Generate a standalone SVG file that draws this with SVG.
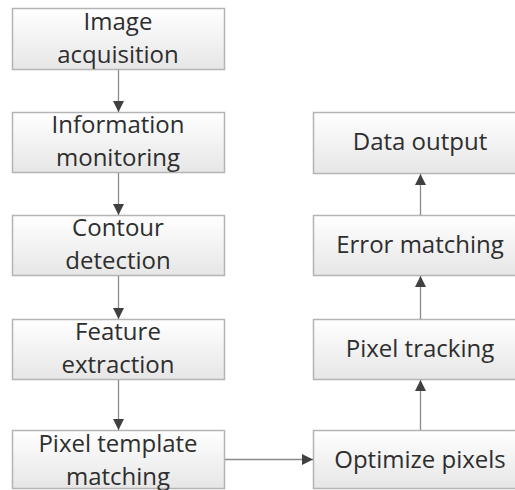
<svg xmlns="http://www.w3.org/2000/svg" width="515" height="490" viewBox="0 0 515 490">
<defs>
<linearGradient id="g" x1="0" y1="0" x2="0" y2="1">
<stop offset="0" stop-color="#ffffff"/>
<stop offset="1" stop-color="#e6e6e6"/>
</linearGradient>
<marker id="ah" markerWidth="12" markerHeight="12" refX="11" refY="5.5" orient="auto" markerUnits="userSpaceOnUse">
<path d="M0,0 L11,5.5 L0,11 Z" fill="#404040"/>
</marker>
<style>
.box{fill:url(#g);stroke:#b4b4b4;stroke-width:1.5}
.t{font-family:"Open Sans","Liberation Sans",sans-serif;font-size:24px;fill:#2e2e2e;text-anchor:middle}
.c{stroke:#8a8a8a;stroke-width:1.3;fill:none;marker-end:url(#ah)}
</style>
</defs>
<rect width="515" height="490" fill="#fff"/>
<g id="n1"><rect class="box" x="12.5" y="8.5" width="212" height="61"/><text class="t" x="118" y="30">Image</text><text class="t" x="118" y="63">acquisition</text></g>
<g id="n2"><rect class="box" x="12.5" y="112.5" width="212" height="60"/><text class="t" x="118" y="133">Information</text><text class="t" x="118" y="166">monitoring</text></g>
<g id="n3"><rect class="box" x="12.5" y="215.5" width="212" height="60"/><text class="t" x="118" y="236">Contour</text><text class="t" x="118" y="269">detection</text></g>
<g id="n4"><rect class="box" x="12.5" y="319.5" width="212" height="60"/><text class="t" x="118" y="340">Feature</text><text class="t" x="118" y="373">extraction</text></g>
<g id="n5"><rect class="box" x="12.5" y="430.5" width="212" height="58"/><text class="t" x="118" y="452">Pixel template</text><text class="t" x="118" y="485">matching</text></g>
<g id="n6"><rect class="box" x="313.5" y="430.5" width="214" height="58"/><text class="t" x="420" y="468">Optimize pixels</text></g>
<g id="n7"><rect class="box" x="313.5" y="319.5" width="214" height="60"/><text class="t" x="420" y="357">Pixel tracking</text></g>
<g id="n8"><rect class="box" x="313.5" y="215.5" width="214" height="60"/><text class="t" x="420" y="253">Error matching</text></g>
<g id="n9"><rect class="box" x="313.5" y="112.5" width="214" height="61"/><text class="t" x="420" y="150">Data output</text></g>
<g id="connectors">
<line class="c" x1="118.5" y1="70" x2="118.5" y2="112"/>
<line class="c" x1="118.5" y1="173" x2="118.5" y2="215"/>
<line class="c" x1="118.5" y1="276" x2="118.5" y2="319"/>
<line class="c" x1="118.5" y1="380" x2="118.5" y2="430"/>
<line class="c" x1="225" y1="459.5" x2="313" y2="459.5"/>
<line class="c" x1="420.5" y1="430" x2="420.5" y2="380"/>
<line class="c" x1="420.5" y1="319" x2="420.5" y2="276"/>
<line class="c" x1="420.5" y1="215" x2="420.5" y2="174"/>
</g>
</svg>
